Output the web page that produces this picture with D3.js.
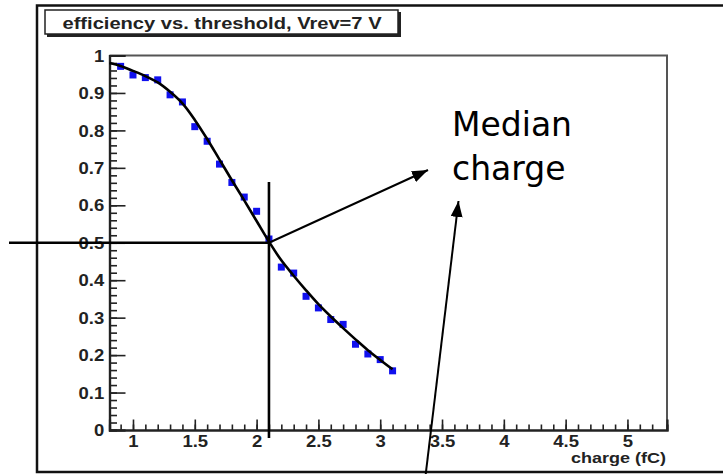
<!DOCTYPE html>
<html><head><meta charset="utf-8">
<script src="https://cdn.jsdelivr.net/npm/d3@7"></script>
<style>html,body{margin:0;padding:0;background:#fff;}svg{display:block;}</style>
</head><body>
<svg id="chart" width="723" height="474"></svg>
<script>
// ---- data ----
const chartTitle = "efficiency vs. threshold, Vrev=7 V";
const xAxisTitle = "charge (fC)";
const annotationLines = ["Median", "charge"];
const charge = [0.9,1.0,1.1,1.2,1.3,1.4,1.5,1.6,1.7,1.8,1.9,2.0,2.1,2.2,2.3,2.4,2.5,2.6,2.7,2.8,2.9,3.0,3.1];
const efficiency = [0.971,0.948,0.941,0.935,0.895,0.876,0.810,0.771,0.710,0.661,0.622,0.584,0.51,0.435,0.419,0.357,0.326,0.295,0.282,0.229,0.203,0.188,0.158];
const fitCharge = [0.81,0.9,1.0,1.1,1.2,1.3,1.4,1.5,1.6,1.7,1.8,1.9,2.0,2.1,2.2,2.3,2.4,2.5,2.6,2.7,2.8,2.9,3.0,3.1];
const fitEfficiency = [0.980,0.972,0.959,0.945,0.928,0.903,0.872,0.828,0.777,0.722,0.667,0.613,0.558,0.503,0.453,0.412,0.373,0.336,0.303,0.272,0.242,0.213,0.187,0.162];
const xTickValues = [1,1.5,2,2.5,3,3.5,4,4.5,5];
const xTickLabels = ["1","1.5","2","2.5","3","3.5","4","4.5","5"];
const yTickValues = [0,0.1,0.2,0.3,0.4,0.5,0.6,0.7,0.8,0.9,1];
const yTickLabels = ["0","0.1","0.2","0.3","0.4","0.5","0.6","0.7","0.8","0.9","1"];
const medianCharge = 2.1;
const medianEfficiency = 0.5;

// ---- layout ----
const svg = d3.select("#chart");
const L = 109.5, R = 667, T = 55.5, B = 430;
const x = d3.scaleLinear().domain([0.81, 5.32]).range([L, R]);
const y = d3.scaleLinear().domain([0, 1]).range([B, T]);
const stretch = 1.17;
const rootFont = "'Liberation Sans', Arial, Helvetica, sans-serif";

// outer canvas frame
svg.append("rect").attr("x", 37).attr("y", 5.5).attr("width", 760).attr("height", 466.5)
  .attr("fill", "none").attr("stroke", "#111").attr("stroke-width", 2.5);

// title box with shadow
svg.append("rect").attr("x", 47).attr("y", 12).attr("width", 354).attr("height", 25).attr("fill", "#222");
svg.append("rect").attr("x", 45).attr("y", 10).attr("width", 353).attr("height", 24)
  .attr("fill", "#fff").attr("stroke", "#222").attr("stroke-width", 1.5);
svg.append("text").attr("transform", `translate(222,29) scale(${stretch},1)`)
  .attr("text-anchor", "middle").attr("font-family", rootFont).attr("font-weight", "bold")
  .attr("font-size", 17.2).attr("fill", "#222").text(chartTitle);

// plot frame (top and right)
svg.append("path").attr("d", `M${L},${T}H${R}V${B}`).attr("fill", "none")
  .attr("stroke", "#555").attr("stroke-width", 2);

// x axis
const xMinor = d3.range(0.9, 5.25, 0.1).map(v => Math.round(v * 10) / 10);
const gxMinor = svg.append("g").attr("transform", `translate(0,${B})`)
  .call(d3.axisBottom(x).tickValues(xMinor).tickSize(-5.5).tickFormat(""));
const gx = svg.append("g").attr("transform", `translate(0,${B})`)
  .call(d3.axisBottom(x).tickValues(xTickValues).tickSize(-10.5)
    .tickFormat((d, i) => xTickLabels[i]));
gx.selectAll("text").attr("y", 17).attr("dy", null)
  .attr("transform", `scale(${stretch},1)`)
  .attr("x", 0);
// y axis
const yMinor = d3.range(0, 1.0001, 0.02).map(v => Math.round(v * 100) / 100);
const gyMinor = svg.append("g").attr("transform", `translate(${L},0)`)
  .call(d3.axisLeft(y).tickValues(yMinor).tickSize(-7.5).tickFormat(""));
const gy = svg.append("g").attr("transform", `translate(${L},0)`)
  .call(d3.axisLeft(y).tickValues(yTickValues).tickSize(-16)
    .tickFormat((d, i) => yTickLabels[i]));
gy.selectAll("text").attr("x", -4.5).attr("dy", "0.36em")
  .attr("transform", `scale(${stretch},1)`);

[gx, gy, gxMinor, gyMinor].forEach(g => {
  g.selectAll("text").attr("font-family", rootFont).attr("font-weight", "bold")
    .attr("font-size", 15.8).attr("fill", "#222");
  g.selectAll("line").attr("stroke", "#222").attr("stroke-width", 1.6);
  g.select(".domain").attr("stroke", "#222").attr("stroke-width", 2.2);
});
gx.selectAll("text").attr("text-anchor", "middle");

// x axis title
svg.append("text").attr("transform", `translate(666,463) scale(${stretch},1)`)
  .attr("text-anchor", "end").attr("font-family", rootFont).attr("font-weight", "bold")
  .attr("font-size", 15.4).attr("fill", "#222").text(xAxisTitle);

// data points
svg.append("g").selectAll("rect").data(charge).join("rect")
  .attr("x", (d) => x(d) - 3.5)
  .attr("y", (d, i) => y(efficiency[i]) - 3.5)
  .attr("width", 7).attr("height", 7).attr("fill", "#1010ee");

// fit curve
const line = d3.line().x(d => x(d[0])).y(d => y(d[1])).curve(d3.curveCatmullRom);
svg.append("path").datum(fitCharge.map((c, i) => [c, fitEfficiency[i]]))
  .attr("d", line).attr("fill", "none").attr("stroke", "#000").attr("stroke-width", 2.6);

// median cross-hair lines
const mx = x(medianCharge), my = y(medianEfficiency);
svg.append("line").attr("x1", 9).attr("x2", mx).attr("y1", my).attr("y2", my)
  .attr("stroke", "#000").attr("stroke-width", 2.6);
svg.append("line").attr("x1", mx).attr("x2", mx).attr("y1", 182).attr("y2", 438)
  .attr("stroke", "#000").attr("stroke-width", 2.6);

// arrows
svg.append("defs").append("marker").attr("id", "arrow").attr("viewBox", "0 0 16 12")
  .attr("refX", 16).attr("refY", 6).attr("markerWidth", 16).attr("markerHeight", 12)
  .attr("markerUnits", "userSpaceOnUse").attr("orient", "auto")
  .append("path").attr("d", "M0,0L16,6L0,12Z").attr("fill", "#000");
svg.append("line").attr("x1", mx).attr("y1", my).attr("x2", 428).attr("y2", 170)
  .attr("stroke", "#000").attr("stroke-width", 2).attr("marker-end", "url(#arrow)");
svg.append("line").attr("x1", 425.5).attr("y1", 476).attr("x2", 458.5).attr("y2", 201)
  .attr("stroke", "#000").attr("stroke-width", 2).attr("marker-end", "url(#arrow)");

// annotation text
svg.append("g").selectAll("text").data(annotationLines).join("text")
  .attr("x", 452).attr("y", (d, i) => 136 + i * 44)
  .attr("font-family", "'Comic Sans MS', 'DejaVu Sans', sans-serif")
  .attr("font-size", 33).attr("fill", "#000").text(d => d);
</script>
</body></html>
